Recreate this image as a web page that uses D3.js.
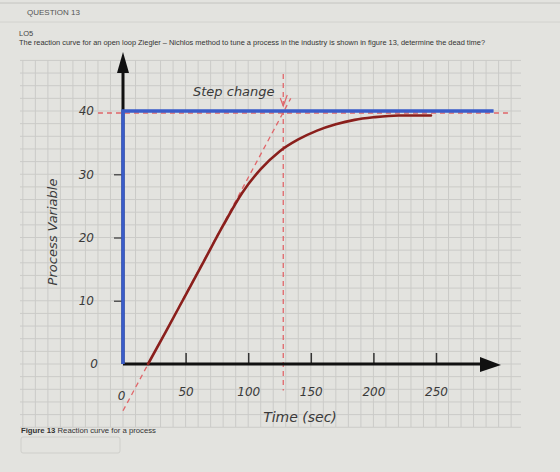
<!DOCTYPE html>
<html lang="en">
<head>
    <meta charset="UTF-8">
    <title>reaction curve</title>
    <style>
        body{margin:0; background:#e3e3df;}
        svg{display:block;}
        .hand{font-family:"DejaVu Sans",sans-serif; font-style:italic; fill:#3a3a3a;}
    </style>
</head>
<body>
<div id="chart"></div>
<script src="https://cdn.jsdelivr.net/npm/d3@7"></script>
<script>
    // data
    var curveTime = [20, 35, 50, 65, 80, 95, 110, 125, 140, 155, 170, 185, 200, 220, 246];
    var curveValue = [0, 5.4, 10.9, 16.4, 21.9, 27, 30.8, 33.6, 35.5, 36.9, 37.9, 38.6, 39.0, 39.3, 39.3];
    var stepTime = [0, 0, 296];
    var stepValue = [0, 40, 40];
    var tangentTime = [0, 134];
    var tangentValue = [-7.4, 42];
    var stepChangeTime = 128;
    var xTicks = [0, 50, 100, 150, 200, 250];
    var yTicks = [0, 10, 20, 30, 40];

    var width = 560, height = 472;
    var x = d3.scaleLinear().domain([0, 250]).range([123, 436]);
    var y = d3.scaleLinear().domain([0, 40]).range([364, 111]);

    var svg = d3.select('#chart').append('svg')
        .attr('width', width).attr('height', height);

    svg.append('rect').attr('width', width).attr('height', height).attr('fill', '#e3e3df');

    // header
    svg.append('line').attr('x1', 0).attr('x2', width).attr('y1', 3).attr('y2', 3)
        .attr('stroke', '#c4c4c0').attr('stroke-width', 1);
    svg.append('text').attr('x', 27).attr('y', 15).text('QUESTION 13')
        .style('font-family', 'Liberation Sans, Arial, sans-serif').style('font-size', '8px').attr('fill', '#555');
    svg.append('line').attr('x1', 0).attr('x2', width).attr('y1', 22).attr('y2', 22)
        .attr('stroke', '#d2d2ce').attr('stroke-width', 1);
    svg.append('text').attr('x', 19).attr('y', 36).text('LO5')
        .style('font-family', 'Liberation Sans, Arial, sans-serif').style('font-size', '7.5px').attr('fill', '#444');
    svg.append('text').attr('x', 19).attr('y', 45)
        .text('The reaction curve for an open loop Ziegler \u2013 Nichlos method to tune a process in the industry is shown in figure 13, determine the dead time?')
        .attr('textLength', 466).attr('lengthAdjust', 'spacingAndGlyphs')
        .style('font-family', 'Liberation Sans, Arial, sans-serif').style('font-size', '7.5px').attr('fill', '#333');

    // graph paper grid
    var grid = svg.append('g').attr('stroke', '#cbcbc8').attr('stroke-width', 1);
    grid.selectAll('line.v').data(d3.range(-80, 311, 10)).enter().append('line')
        .attr('class', 'v')
        .attr('x1', function(d){ return x(d); }).attr('x2', function(d){ return x(d); })
        .attr('y1', 60).attr('y2', 427);
    grid.selectAll('line.h').data(d3.range(-10, 49, 2)).enter().append('line')
        .attr('class', 'h')
        .attr('x1', 20).attr('x2', 521)
        .attr('y1', function(d){ return y(d); }).attr('y2', function(d){ return y(d); });

    // y axis ticks + labels
    var yAxis = d3.axisLeft(y).tickValues(yTicks).tickSize(9).tickPadding(20);
    var gy = svg.append('g').attr('transform', 'translate(' + x(0) + ',0)').call(yAxis);
    gy.select('.domain').remove();
    gy.selectAll('.tick line').attr('stroke', '#555').attr('stroke-width', 1.5)
        .attr('opacity', function(d){ return (d === 0 || d === 40) ? 0 : 1; });
    gy.selectAll('.tick text').attr('class', 'hand').style('font-size', '12px').attr('fill', '#3a3a3a')
        .attr('dx', function(d){ return d === 0 ? 4 : 0; });

    // x axis: marks above, labels below
    var gxMarks = svg.append('g').attr('transform', 'translate(0,' + y(0) + ')')
        .call(d3.axisTop(x).tickValues(xTicks.slice(1)).tickSize(11).tickFormat(''));
    gxMarks.select('.domain').remove();
    gxMarks.selectAll('.tick line').attr('stroke', '#333').attr('stroke-width', 1.5);

    var gxLabels = svg.append('g').attr('transform', 'translate(0,' + y(0) + ')')
        .call(d3.axisBottom(x).tickValues(xTicks).tickSize(0).tickPadding(23));
    gxLabels.select('.domain').remove();
    gxLabels.selectAll('.tick text').attr('class', 'hand').style('font-size', '12px').attr('fill', '#3a3a3a')
        .attr('dx', function(d){ return d === 0 ? -2 : 0; })
        .attr('dy', function(d){ return d === 0 ? '1.1em' : '0.71em'; });

    // dashed red helpers
    var dashColor = '#e0666a';
    svg.append('line')
        .attr('x1', x(-20)).attr('x2', x(310)).attr('y1', y(40) + 2).attr('y2', y(40) + 2)
        .attr('stroke', dashColor).attr('stroke-width', 1.3).attr('stroke-dasharray', '5,4');
    svg.append('line')
        .attr('x1', x(stepChangeTime)).attr('x2', x(stepChangeTime)).attr('y1', 74).attr('y2', y(-4.2))
        .attr('stroke', dashColor).attr('stroke-width', 1.3).attr('stroke-dasharray', '5,4');
    var line = d3.line().x(function(d){ return x(d[0]); }).y(function(d){ return y(d[1]); });
    svg.append('path')
        .attr('d', line(d3.zip(tangentTime, tangentValue)))
        .attr('fill', 'none').attr('stroke', dashColor).attr('stroke-width', 1.3).attr('stroke-dasharray', '5,4');
    // small arrow head at top of the step line
    svg.append('path')
        .attr('d', 'M' + (x(stepChangeTime) - 3) + ',' + 98 + ' L' + x(stepChangeTime) + ',' + 106 + ' L' + (x(stepChangeTime) + 4) + ',' + 95)
        .attr('fill', 'none').attr('stroke', dashColor).attr('stroke-width', 1.2);

    // axes with arrows
    svg.append('line').attr('x1', x(0)).attr('x2', x(0)).attr('y1', y(0)).attr('y2', 70)
        .attr('stroke', '#111').attr('stroke-width', 3);
    svg.append('path').attr('d', 'M' + (x(0) - 6) + ',73 L' + x(0) + ',52 L' + (x(0) + 6) + ',73 Z').attr('fill', '#111');
    svg.append('line').attr('x1', x(0)).attr('x2', 482).attr('y1', y(0)).attr('y2', y(0))
        .attr('stroke', '#111').attr('stroke-width', 3);
    svg.append('path').attr('d', 'M480,' + (y(0) - 7) + ' L501,' + (y(0) + 1) + ' L480,' + (y(0) + 8) + ' Z').attr('fill', '#111');

    // step input (blue)
    svg.append('path')
        .attr('d', line(d3.zip(stepTime, stepValue)))
        .attr('fill', 'none').attr('stroke', '#3a5cc9').attr('stroke-width', 3.5);

    // reaction curve (dark red)
    var curveLine = d3.line().curve(d3.curveMonotoneX)
        .x(function(d){ return x(d[0]); }).y(function(d){ return y(d[1]); });
    svg.append('path')
        .attr('d', curveLine(d3.zip(curveTime, curveValue)))
        .attr('fill', 'none').attr('stroke', '#8a1f1c').attr('stroke-width', 2.6).attr('stroke-linecap', 'round');

    // hand-written labels
    svg.append('text').attr('class', 'hand').attr('x', 193).attr('y', 96).text('Step change').style('font-size', '13px');
    svg.append('text').attr('class', 'hand').attr('x', 300).attr('y', 422).attr('text-anchor', 'middle')
        .text('Time  (sec)').style('font-size', '14px');
    svg.append('text').attr('class', 'hand').attr('text-anchor', 'middle')
        .attr('transform', 'translate(57,232) rotate(-90)').text('Process Variable').style('font-size', '13px');

    // caption
    var cap = svg.append('text').attr('x', 21).attr('y', 433)
        .attr('textLength', 135).attr('lengthAdjust', 'spacingAndGlyphs')
        .style('font-family', 'Liberation Sans, Arial, sans-serif').style('font-size', '7.5px').attr('fill', '#333');
    cap.append('tspan').style('font-weight', 'bold').text('Figure 13');
    cap.append('tspan').text(' Reaction curve for a process');
    svg.append('rect').attr('x', 21).attr('y', 437).attr('width', 99).attr('height', 16).attr('rx', 2)
        .attr('fill', 'none').attr('stroke', '#cfcfcb');
</script>
</body>
</html>
